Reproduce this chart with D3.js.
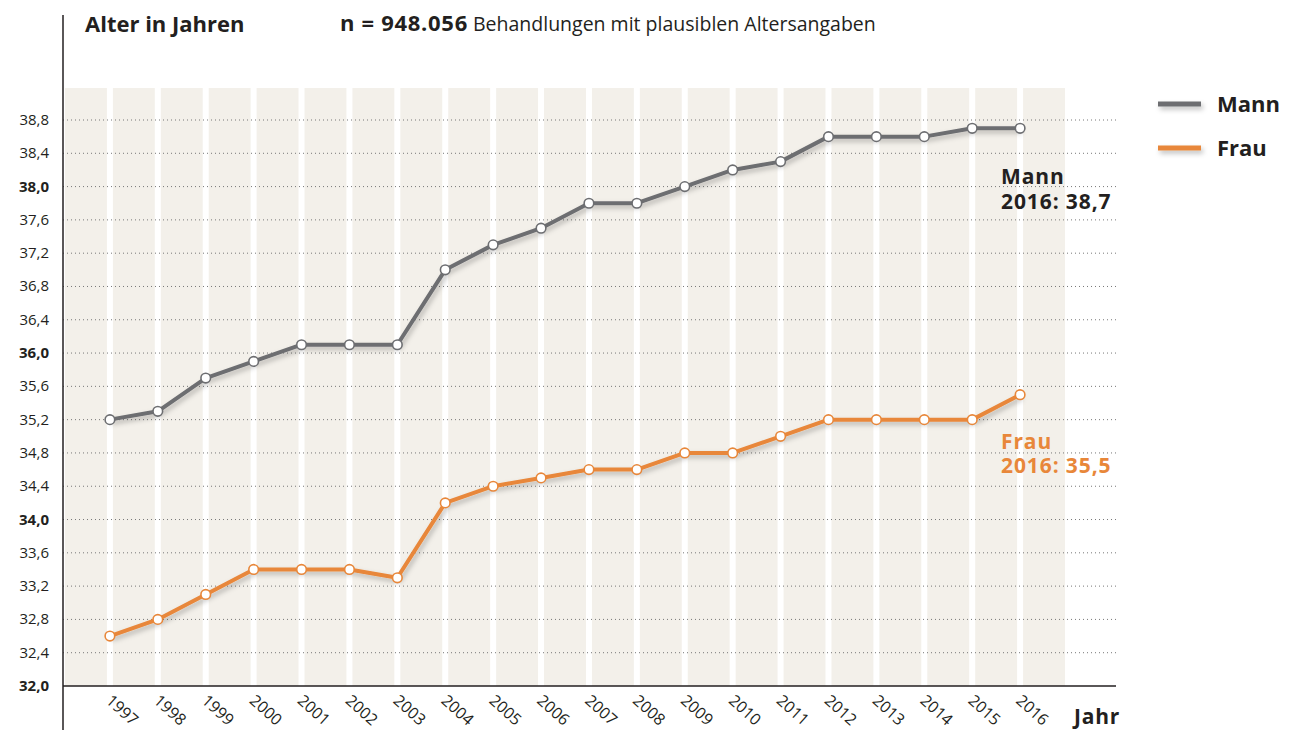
<!DOCTYPE html>
<html><head><meta charset="utf-8">
<script src="https://cdn.jsdelivr.net/npm/d3@7"></script>
<style>body{margin:0;background:#fff}svg{font-family:"Open Sans","Noto Sans",sans-serif}</style>
</head><body><svg id="c" width="1289" height="730"></svg>
<script>
const years = [1997,1998,1999,2000,2001,2002,2003,2004,2005,2006,2007,2008,2009,2010,2011,2012,2013,2014,2015,2016];
const mann = [35.2,35.3,35.7,35.9,36.1,36.1,36.1,37.0,37.3,37.5,37.8,37.8,38.0,38.2,38.3,38.6,38.6,38.6,38.7,38.7];
const frau = [32.6,32.8,33.1,33.4,33.4,33.4,33.3,34.2,34.4,34.5,34.6,34.6,34.8,34.8,35.0,35.2,35.2,35.2,35.2,35.5];
const yTicks = [32.0,32.4,32.8,33.2,33.6,34.0,34.4,34.8,35.2,35.6,36.0,36.4,36.8,37.2,37.6,38.0,38.4,38.8];
const boldTicks = [32.0,34.0,36.0,38.0];

const svg = d3.select("#c");
const x = d3.scaleLinear().domain([1996,2017]).range([62,1068]);
const y = d3.scaleLinear().domain([32,38.8]).range([686,120]);
const cGray="#6d6e71", cOrange="#e8873a", cText="#231f20";

const defs = svg.append("defs");
const f = defs.append("filter").attr("id","sh").attr("filterUnits","userSpaceOnUse")
  .attr("x",0).attr("y",0).attr("width",1289).attr("height",730);
f.append("feDropShadow").attr("dx",2).attr("dy",3).attr("stdDeviation",2.5).attr("flood-color","#000").attr("flood-opacity",0.25);

// background bands
const bandYears = d3.range(1996,2017);
svg.append("g").selectAll("rect").data(bandYears).join("rect")
  .attr("x",d=>Math.max(63,x(d)+3)).attr("width",d=>x(d+1)-3-Math.max(63,x(d)+3))
  .attr("y",88).attr("height",686-88).attr("fill","#f3f0ea");

// gridlines
svg.append("g").selectAll("line").data(yTicks.filter(d=>d>32)).join("line")
  .attr("x1",63).attr("x2",1116).attr("y1",d=>y(d)).attr("y2",d=>y(d))
  .attr("stroke","#777").attr("stroke-width",1).attr("stroke-dasharray","1,3");

// y tick labels
svg.append("g").selectAll("text").data(yTicks).join("text")
  .attr("x",49).attr("y",d=>y(d)+5).attr("text-anchor","end")
  .attr("font-size",15).attr("fill",cText)
  .attr("font-weight",d=>boldTicks.includes(d)?"bold":"normal")
  .text(d=>d3.format(".1f")(d).replace(".",","));

// axes lines
svg.append("line").attr("x1",63).attr("x2",63).attr("y1",15).attr("y2",730).attr("stroke",cText).attr("stroke-width",1.5);
svg.append("line").attr("x1",63).attr("x2",1116).attr("y1",686).attr("y2",686).attr("stroke",cText).attr("stroke-width",1.5);

// x labels
svg.append("g").selectAll("text").data(years).join("text")
  .attr("transform",d=>`translate(${x(d)-5},${702}) rotate(42)`)
  .attr("font-size",16).attr("fill",cText).text(d=>d);
svg.append("text").attr("x",1074).attr("y",724).attr("font-size",21).attr("letter-spacing",0.8).attr("font-weight","bold").attr("fill",cText).text("Jahr");

// lines
const line = d3.line().x((d,i)=>x(years[i])).y(d=>y(d));
[[mann,cGray],[frau,cOrange]].forEach(([vals,col])=>{
  svg.append("path").datum(vals).attr("d",line).attr("fill","none")
    .attr("stroke",col).attr("stroke-width",4).attr("stroke-linejoin","round").attr("filter","url(#sh)");
  svg.append("g").selectAll("circle").data(vals).join("circle")
    .attr("cx",(d,i)=>x(years[i])).attr("cy",d=>y(d)).attr("r",4.8)
    .attr("fill","#fff").attr("stroke",col).attr("stroke-width",1.6);
});

// title
svg.append("text").attr("x",85).attr("y",32).attr("font-size",22).attr("font-weight","bold").attr("fill",cText).text("Alter in Jahren");
const t = svg.append("text").attr("x",340).attr("y",31).attr("fill",cText);
t.append("tspan").attr("font-weight","bold").attr("font-size",22).attr("letter-spacing",0.7).text("n = 948.056");
t.append("tspan").attr("font-size",19.5).text(" Behandlungen mit plausiblen Altersangaben");

// legend
[["Mann",cGray,104],["Frau",cOrange,148]].forEach(([lab,col,yy])=>{
  svg.append("rect").attr("x",1158).attr("width",43).attr("y",yy-2.5).attr("height",5)
    .attr("fill",col).attr("filter","url(#sh)");
  svg.append("text").attr("x",1217).attr("y",yy+8).attr("font-size",22).attr("font-weight","bold").attr("fill",cText).text(lab);
});

// annotations
[["Mann",184,cText],["2016: 38,7",209,cText],["Frau",449,cOrange],["2016: 35,5",473,cOrange]].forEach(([s,yy,col])=>{
  svg.append("text").attr("x",1001).attr("y",yy).attr("font-size",21).attr("letter-spacing",0.9)
    .attr("font-weight","bold").attr("fill",col).text(s);
});
</script></body></html>
